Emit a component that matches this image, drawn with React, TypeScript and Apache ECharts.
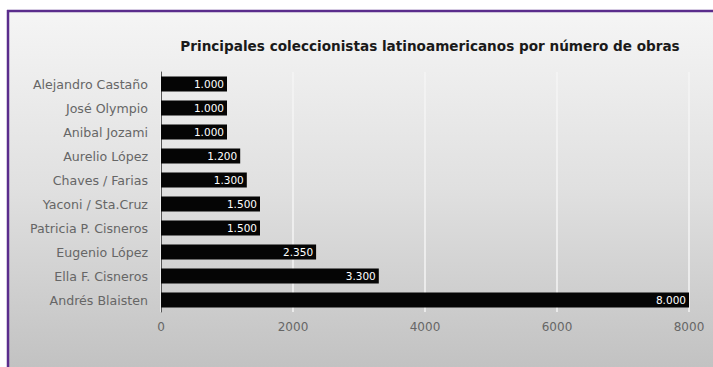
import React, { useEffect, useRef } from "react";
import * as echarts from "echarts";

const categories = [
  "Alejandro Castaño",
  "José Olympio",
  "Anibal Jozami",
  "Aurelio López",
  "Chaves / Farias",
  "Yaconi / Sta.Cruz",
  "Patricia P. Cisneros",
  "Eugenio López",
  "Ella F. Cisneros",
  "Andrés Blaisten",
];
const values = [1000, 1000, 1000, 1200, 1300, 1500, 1500, 2350, 3300, 8000];
const valueLabels = ["1.000", "1.000", "1.000", "1.200", "1.300", "1.500", "1.500", "2.350", "3.300", "8.000"];
const titleText = "Principales coleccionistas latinoamericanos por número de obras";

export default function App() {
  const ref = useRef<HTMLDivElement>(null);
  useEffect(() => {
    if (!ref.current) return;
    const chart = echarts.init(ref.current, null, { renderer: "svg" });
    chart.setOption({
      animation: false,
      backgroundColor: "#ffffff",
      graphic: [
        {
          type: "rect",
          z: -10,
          silent: true,
          shape: { x: 8, y: 11, width: 705, height: 356 },
          style: {
            fill: new echarts.graphic.LinearGradient(0, 0, 0, 1, [
              { offset: 0, color: "#f5f5f5" },
              { offset: 0.5, color: "#e0e0e0" },
              { offset: 1, color: "#c2c2c2" },
            ]),
          },
        },
        {
          type: "line",
          z: -5,
          silent: true,
          shape: { x1: 8, y1: 10, x2: 8, y2: 367 },
          style: { stroke: "#5a2d8c", lineWidth: 2.5 },
        },
        {
          type: "line",
          z: -5,
          silent: true,
          shape: { x1: 7, y1: 11, x2: 713, y2: 11 },
          style: { stroke: "#5a2d8c", lineWidth: 2.5 },
        },
      ],
      title: {
        text: titleText,
        left: 425,
        top: 34,
        textAlign: "center",
        textStyle: {
          fontFamily: "DejaVu Sans",
          fontWeight: "bold",
          fontSize: 13.6,
          color: "#1a1a1a",
        },
      },
      grid: { left: 161, right: 24, top: 72, bottom: 55, containLabel: false },
      xAxis: {
        type: "value",
        min: 0,
        max: 8000,
        interval: 2000,
        axisLine: { show: false },
        axisTick: { show: false },
        axisLabel: {
          color: "#666",
          fontSize: 12,
          fontFamily: "DejaVu Sans",
          margin: 9,
          formatter: (v: number) => String(v),
        },
        splitLine: { show: true, lineStyle: { color: "#f5f5f5", width: 1.5 } },
      },
      yAxis: {
        type: "category",
        data: categories,
        inverse: true,
        axisLine: { show: true, lineStyle: { color: "#555", width: 1 } },
        axisTick: { show: false },
        axisLabel: { color: "#666", fontSize: 12.6, fontFamily: "DejaVu Sans", margin: 13 },
        splitLine: { show: false },
      },
      series: [
        {
          type: "bar",
          data: values,
          barWidth: 15,
          itemStyle: { color: "#050505" },
          label: {
            show: true,
            position: "insideRight",
            distance: 3,
            color: "#ffffff",
            fontSize: 10.5,
            fontFamily: "DejaVu Sans",
            formatter: (p: any) => valueLabels[p.dataIndex],
          },
        },
      ],
    });
    return () => chart.dispose();
  }, []);
  return (
    <div style={{ position: "fixed", left: 0, top: 0, width: 713, height: 367 }}>
      <div ref={ref} style={{ width: 713, height: 367 }} />
    </div>
  );
}
